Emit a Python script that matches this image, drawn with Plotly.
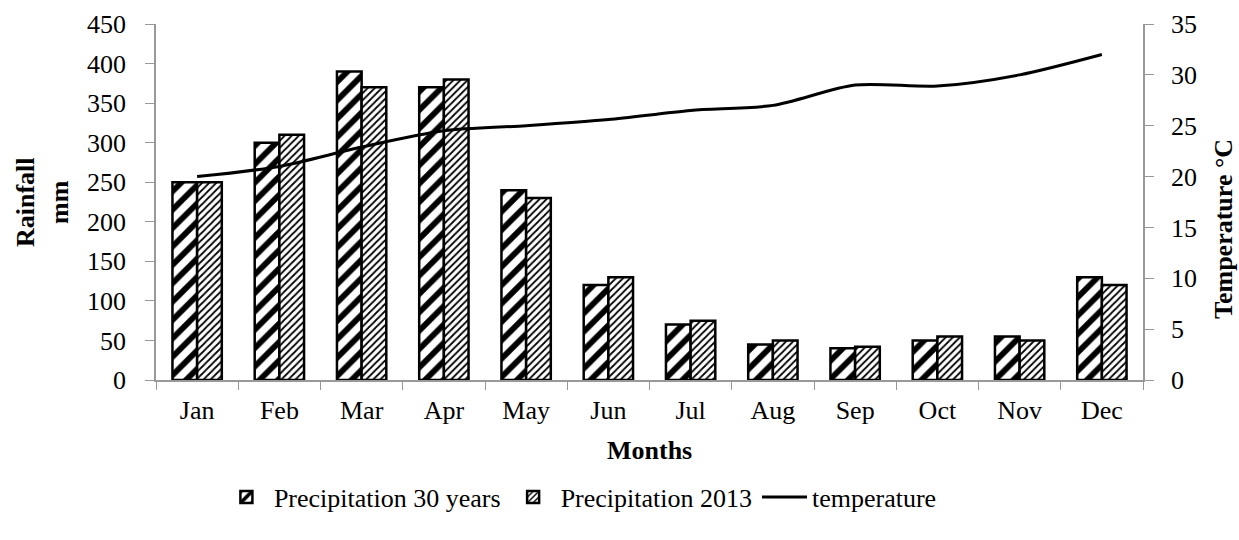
import plotly.graph_objects as go

months = ["Jan", "Feb", "Mar", "Apr", "May", "Jun", "Jul", "Aug", "Sep", "Oct", "Nov", "Dec"]
precip_30y = [250, 300, 390, 370, 240, 120, 70, 45, 40, 50, 55, 130]
precip_2013 = [250, 310, 370, 380, 230, 130, 75, 50, 42, 55, 50, 120]
temperature = [20.0, 21.0, 22.9, 24.5, 25.0, 25.6, 26.5, 27.0, 29.0, 28.9, 30.0, 32.0]

FONT = "Liberation Serif, Times New Roman, serif"
FS = 26

fig = go.Figure()
fig.add_trace(go.Bar(
    x=months, y=precip_30y, name="Precipitation 30 years",
    marker=dict(color="white", line=dict(color="black", width=2.5),
                pattern=dict(shape="/", fgcolor="black", bgcolor="white", fgopacity=1,
                             size=13, solidity=0.45, fillmode="replace")),
))
fig.add_trace(go.Bar(
    x=months, y=precip_2013, name="Precipitation 2013",
    marker=dict(color="white", line=dict(color="black", width=2.5),
                pattern=dict(shape="/", fgcolor="black", bgcolor="white", fgopacity=1,
                             size=5, solidity=0.35, fillmode="replace")),
))
fig.add_trace(go.Scatter(
    x=months, y=temperature, name="temperature", yaxis="y2", mode="lines",
    line=dict(color="black", width=3, shape="spline", smoothing=0.8),
))

fig.update_layout(
    width=1239, height=540,
    paper_bgcolor="white", plot_bgcolor="white",
    margin=dict(l=156, r=96, t=24, b=160, autoexpand=False),
    font=dict(family=FONT, size=FS, color="black"),
    barmode="group", bargap=0.4, bargroupgap=0,
    showlegend=True,
    legend=dict(orientation="h", x=0.43, xanchor="center", y=-0.329, yanchor="middle",
                font=dict(family=FONT, size=FS), traceorder="normal", itemwidth=45),
    xaxis=dict(
        showline=True, linecolor="#999999", linewidth=1.5, automargin=False,
        ticks="outside", tickson="boundaries", ticklen=8, tickcolor="#999999",
        showgrid=False, ticklabelstandoff=6,
        tickfont=dict(family=FONT, size=FS),
    ),
    yaxis=dict(
        range=[0, 450], dtick=50, showline=True, linecolor="#999999", linewidth=1.5,
        automargin=False, ticklabelstandoff=14,
        ticks="outside", ticklen=9, tickcolor="#999999", showgrid=False, zeroline=False,
        tickfont=dict(family=FONT, size=FS),
    ),
    yaxis2=dict(
        range=[0, 35], dtick=5, overlaying="y", side="right", automargin=False,
        showline=True, linecolor="#999999", linewidth=1.5, ticklabelstandoff=12,
        ticks="outside", ticklen=9, tickcolor="#999999", showgrid=False, zeroline=False,
        tickfont=dict(family=FONT, size=FS),
    ),
    annotations=[
        dict(text="<b>Rainfall<br>mm</b>", xref="paper", yref="paper",
             x=(42 - 156) / 987, y=0.5, xanchor="center", yanchor="middle",
             textangle=-90, showarrow=False, font=dict(family=FONT, size=FS)),
        dict(text="<b>Temperature °C</b>", xref="paper", yref="paper",
             x=(1223 - 156) / 987, y=(380 - 229) / 356, xanchor="center", yanchor="middle",
             textangle=-90, showarrow=False, font=dict(family=FONT, size=FS)),
        dict(text="<b>Months</b>", xref="paper", yref="paper",
             x=0.5, y=(380 - 450) / 356, xanchor="center", yanchor="middle",
             showarrow=False, font=dict(family=FONT, size=FS)),
    ],
)

fig.write_html("out.html", config={"displayModeBar": False},
               post_script="document.body.style.margin='0';")
